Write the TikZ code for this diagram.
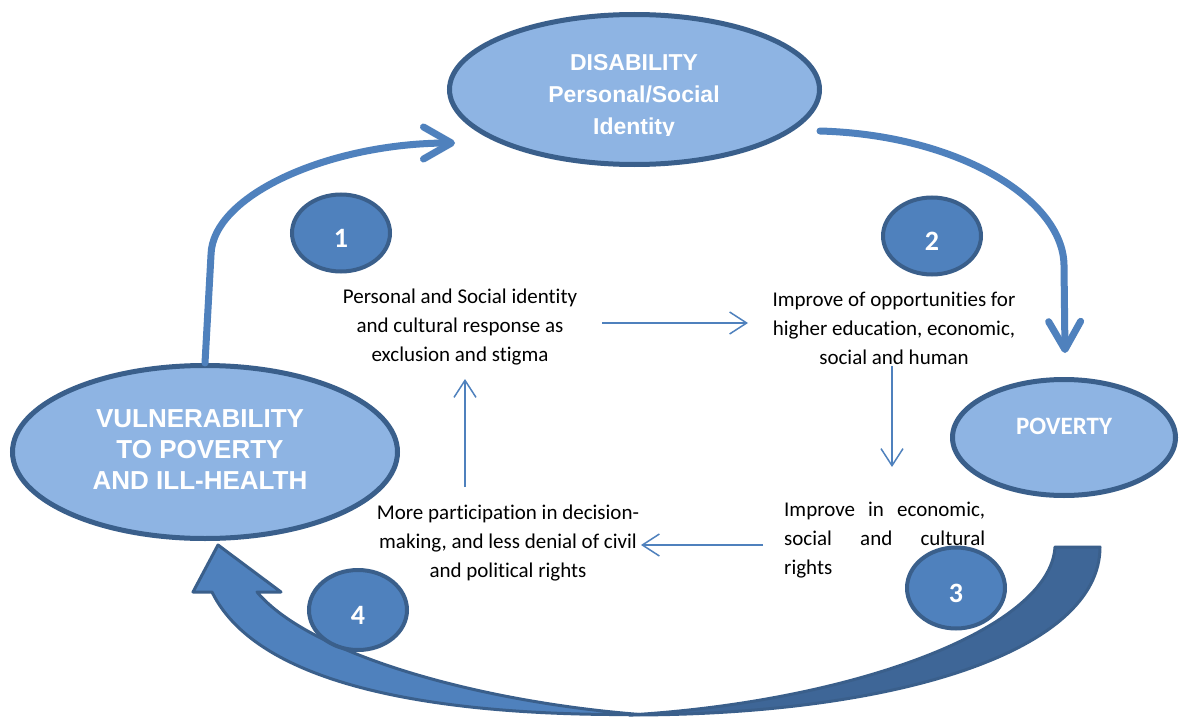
\documentclass[tikz,border=0pt]{standalone}
\usepackage{fontspec}
\setmainfont{Carlito}[Ligatures=NoCommon]
\newfontfamily\arialf{Liberation Sans}
\usetikzlibrary{shapes.geometric,arrows.meta}
\definecolor{lightfill}{HTML}{8EB4E3}
\definecolor{darkline}{HTML}{3A5F8B}
\definecolor{midblue}{HTML}{4F81BD}
\definecolor{darkband}{HTML}{3E6697}
\begin{document}
\begin{tikzpicture}[x=1pt,y=-1pt,
  bigell/.style={ellipse, draw=darkline, fill=lightfill, line width=5pt, inner sep=0pt},
  numell/.style={ellipse, draw=darkline, fill=midblue, line width=4pt, minimum width=98pt, minimum height=77pt, inner sep=0pt, text=white, font=\bfseries\fontsize{28}{28}\selectfont, text height=28pt, text depth=0pt},
  bodytext/.style={align=center, font=\fontsize{21}{29}\selectfont, inner sep=0pt},
  titlearial/.style={align=center, text=white, inner sep=0pt},
  thinarrow/.style={draw=midblue, line width=1.5pt, -{Straight Barb[length=17pt,width=22pt]}},
  thickarrow/.style={draw=midblue, line width=7pt, line cap=round, line join=round, -{Straight Barb[length=28pt,width=32pt,round]}},
  bandline/.style={draw=darkline, line width=3pt, line join=round}
]
\fill[white] (0,0) rectangle (1179,717);
\useasboundingbox (0,0) rectangle (1179,717);

% big curved block arrow (bottom)
\filldraw[bandline, fill=darkband] (1055,547) -- (1100,547)
  .. controls (1100,650) and (900,715) .. (629,715)
  .. controls (850,702) and (1050,630) .. (1055,547) -- cycle;
\filldraw[bandline, fill=midblue] (212,592)
  .. controls (260,690) and (450,716) .. (640,714.5)
  .. controls (480,702) and (310,655) .. (257,592)
  -- (281,592) -- (218,545) -- (193,592) -- cycle;

% main ellipses
\node[bigell, minimum width=370pt, minimum height=150pt] (dis) at (634.5,89.5) {};
\begin{scope}
  \clip (440,0) rectangle (830,135.5);
  \node[titlearial, font=\arialf\bfseries\fontsize{23}{32}\selectfont] (distext) at (634,97) {DISABILITY\\Personal/Social\\Identity};
\end{scope}
\node[bigell, minimum width=385pt, minimum height=173pt] (vul) at (205,452) {};
\node[titlearial, font=\arialf\bfseries\fontsize{26}{31}\selectfont] (vultext) at (200,450) {VULNERABILITY\\TO POVERTY\\AND ILL-HEALTH};
\node[bigell, minimum width=223pt, minimum height=116pt] (pov) at (1064,437.5) {};
\node[titlearial, font=\bfseries\fontsize{25}{25}\selectfont] (povtext) at (1064,426) {POVERTY};

% number circles
\node[numell] (n1) at (341,233) {1};
\node[numell] (n2) at (932,236) {2};
\node[numell, minimum height=81pt] (n3) at (956,588) {3};
\node[numell, minimum height=80pt] (n4) at (358,610) {4};

% text blocks
\node[bodytext] (ta) at (460,327) {Personal and Social identity\\and cultural response as\\exclusion and stigma};
\node[bodytext] (tb) at (894,328) {Improve of opportunities for\\higher education, economic,\\social and human};
\node[bodytext, align=left, anchor=west] (tc) at (784,540) {\makebox[201pt][s]{Improve in economic,}\\\makebox[201pt][s]{social and cultural}\\rights};
\node[bodytext] (td) at (508,543) {More participation in decision-\\making, and less denial of civil\\and political rights};

% thin arrows
\coordinate (ab1) at (602,323); \coordinate (ab2) at (748,323);
\coordinate (bc1) at (892,366); \coordinate (bc2) at (892,467);
\coordinate (cd1) at (763,545); \coordinate (cd2) at (641,545);
\coordinate (da1) at (465,487); \coordinate (da2) at (465,379);
\draw[thinarrow] (ab1) -- (ab2);
\draw[thinarrow] (bc1) -- (bc2);
\draw[thinarrow] (cd1) -- (cd2);
\draw[thinarrow] (da1) -- (da2);

% thick arrows
\coordinate (disin) at (455,143);
\coordinate (disout) at (820,131);
\coordinate (povin) at (1065,353);
\draw[thickarrow] (vul.north) -- (211,255) .. controls (212,195) and (330,143) .. (disin);
\draw[thickarrow] (disout) .. controls (960,135) and (1063,200) .. (1064,265) -- (povin);
\end{tikzpicture}
\end{document}
